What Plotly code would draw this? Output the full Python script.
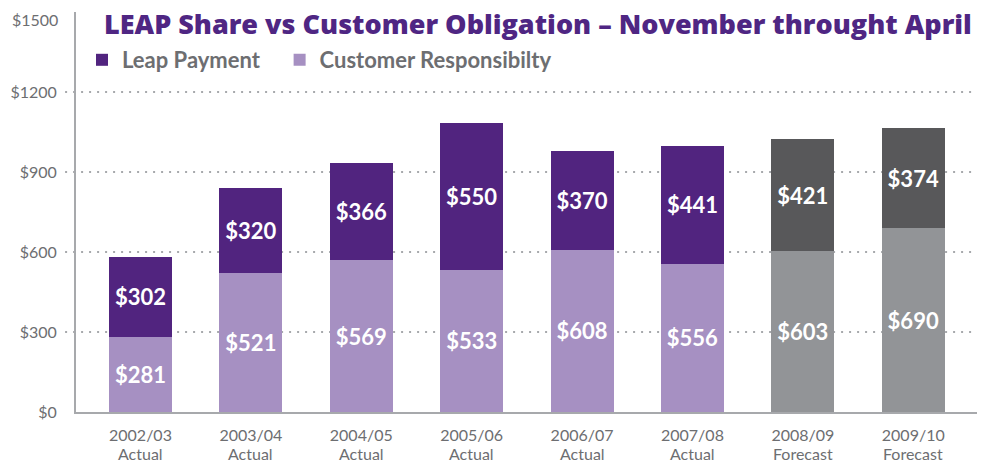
import plotly.graph_objects as go

years = ["2002/03", "2003/04", "2004/05", "2005/06", "2006/07", "2007/08", "2008/09", "2009/10"]
status = ["Actual", "Actual", "Actual", "Actual", "Actual", "Actual", "Forecast", "Forecast"]
customer = [281, 521, 569, 533, 608, 556, 603, 690]
leap = [302, 320, 366, 550, 370, 441, 421, 374]
yticks = [0, 300, 600, 900, 1200, 1500]
gridvals = [300, 600, 900, 1200]

PURPLE = "#51247f"
LAVENDER = "#a690c2"
DARK = "#58585a"
LIGHT = "#929497"
GRAY_TXT = "#6d6e71"
AXIS = "#a7a9ac"
FONT = "Lato"

leap_colors = [DARK if s == "Forecast" else PURPLE for s in status]
cust_colors = [LIGHT if s == "Forecast" else LAVENDER for s in status]

fig = go.Figure()
fig.add_trace(go.Bar(
    x=years, y=customer, name="Customer Responsibilty",
    marker=dict(color=cust_colors, line=dict(width=0)),
    text=[f"${v}" for v in customer], textposition="inside",
    insidetextanchor="middle",
    textfont=dict(family=FONT, size=22, color="white", weight="bold"),
    legend="legend2",
))
fig.add_trace(go.Bar(
    x=years, y=leap, name="Leap Payment",
    marker=dict(color=leap_colors, line=dict(width=0)),
    text=[f"${v}" for v in leap], textposition="inside",
    insidetextanchor="middle",
    textfont=dict(family=FONT, size=22, color="white", weight="bold"),
    legend="legend",
))

shapes = []
for g in gridvals:
    shapes.append(dict(type="line", xref="paper", yref="y", x0=-0.012, x1=1, y0=g, y1=g,
                       line=dict(color=AXIS, width=2, dash="2px,6px"), layer="below"))

annotations = []
for yr, st in zip(years, status):
    annotations.append(dict(x=yr, xref="x", yref="paper", y=0, yshift=-41,
                            text=st, showarrow=False, yanchor="middle",
                            font=dict(family=FONT, size=16, color=GRAY_TXT)))
# top tick label sits slightly below the top of the axis, as in the original
annotations.append(dict(x=0, xref="paper", y=yticks[-1], yref="y", xanchor="right",
                        xshift=-16, yshift=-7, yanchor="middle", showarrow=False,
                        text=f"${yticks[-1]}",
                        font=dict(family=FONT, size=16, color=GRAY_TXT)))

legend_style = dict(orientation="h", xanchor="left", y=0.88, yanchor="middle",
                    font=dict(family=FONT, size=22, color=GRAY_TXT, weight="bold"),
                    bgcolor="rgba(0,0,0,0)")

fig.update_layout(
    width=977, height=452,
    margin=dict(l=68, r=0, t=4, b=48, autoexpand=False),
    paper_bgcolor="white", plot_bgcolor="white",
    barmode="stack", bargap=0.43,
    showlegend=True,
    legend=dict(x=0.0066, **legend_style),
    legend2=dict(x=0.224, **legend_style),
    title=dict(text="LEAP Share vs Customer Obligation – November throught April",
               x=96/977, xanchor="left", xref="container",
               y=1 - 7/452, yanchor="top", yref="container",
               font=dict(family="Open Sans", size=27, color="#4f2683", weight=800)),
    xaxis=dict(range=[-0.584, 7.65], showline=True, linecolor=AXIS, linewidth=2,
               tickfont=dict(family=FONT, size=16, color=GRAY_TXT), ticks="",
               ticklabelstandoff=8, automargin=False, fixedrange=True),
    yaxis=dict(range=[0, 1500], tickvals=yticks[:-1],
               ticktext=[f"${v}" for v in yticks[:-1]],
               showgrid=False, zeroline=False, showline=True, linecolor=AXIS, linewidth=2,
               tickfont=dict(family=FONT, size=16, color=GRAY_TXT), ticks="",
               ticklabelstandoff=14, ticklabeloverflow="allow", automargin=False),
    shapes=shapes,
    annotations=annotations,
    font=dict(family=FONT),
)

fig.write_html("out.html")
